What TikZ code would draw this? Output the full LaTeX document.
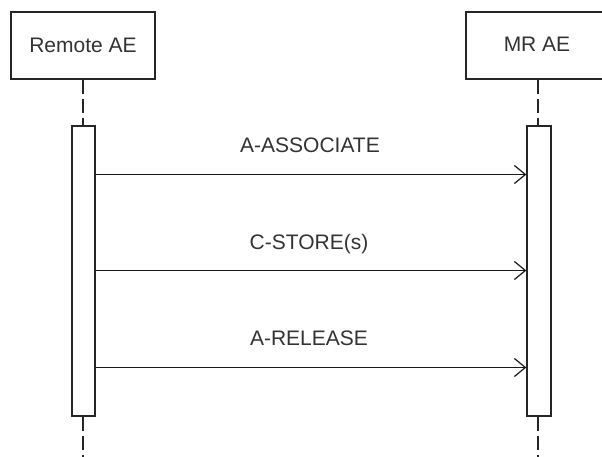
\documentclass[tikz,border=0pt]{standalone}
\usepackage{fontspec}
\setmainfont{Liberation Sans}
\usetikzlibrary{arrows.meta}
\begin{document}
\begin{tikzpicture}[x=1pt,y=-1pt,
  every node/.style={font=\fontsize{21}{25}\selectfont},
  actor/.style={draw=black!85, line width=1.3pt, fill=white, minimum width=144pt, minimum height=67pt, inner sep=0pt},
  actbar/.style={draw=black!85, line width=1.3pt, fill=white, minimum width=23pt, minimum height=290pt, inner sep=0pt},
  life/.style={draw=black!85, line width=1.3pt, dash pattern=on 14pt off 5pt},
  msg/.style={draw=black!90, line width=1.2pt, -{Straight Barb[length=11pt,width=18pt,line width=1.2pt]}},
  lbl/.style={anchor=base, inner sep=0pt, text=black!80}
]
\useasboundingbox (0,0) rectangle (602,457);
\clip (0,0) rectangle (602,457);
\fill[white] (0,0) rectangle (602,457);
% actors
\node[actor] (remote) at (83,45.5) {};
\node[lbl] (remotelbl) at (83,53) {Remote AE};
\node[actor] (mr) at (538,45.5) {};
\node[lbl] (mrlbl) at (537,52) {MR AE};
% activation bars
\node[actbar] (ract) at (83.5,271) {};
\node[actbar, minimum width=24pt] (mact) at (539,271) {};
\coordinate (rend) at (83,460);
\coordinate (mend) at (538,460);
% lifelines
\draw[life] (remote.south) -- (remote.south |- ract.north);
\draw[life] (remote.south |- ract.south) -- (rend);
\draw[life] (mr.south) -- (mr.south |- mact.north);
\draw[life] (mr.south |- mact.south) -- (mend);
% message levels
\coordinate (y1) at (0,174.5);
\coordinate (y2) at (0,270.5);
\coordinate (y3) at (0,367.5);
\draw[msg] (ract.east |- y1) -- (mact.west |- y1);
\draw[msg] (ract.east |- y2) -- (mact.west |- y2);
\draw[msg] (ract.east |- y3) -- (mact.west |- y3);
% labels
\node[lbl] (m1) at (310,153) {A-ASSOCIATE};
\node[lbl] (m2) at (309,249) {C-STORE(s)};
\node[lbl] (m3) at (309,345) {A-RELEASE};
\end{tikzpicture}
\end{document}
